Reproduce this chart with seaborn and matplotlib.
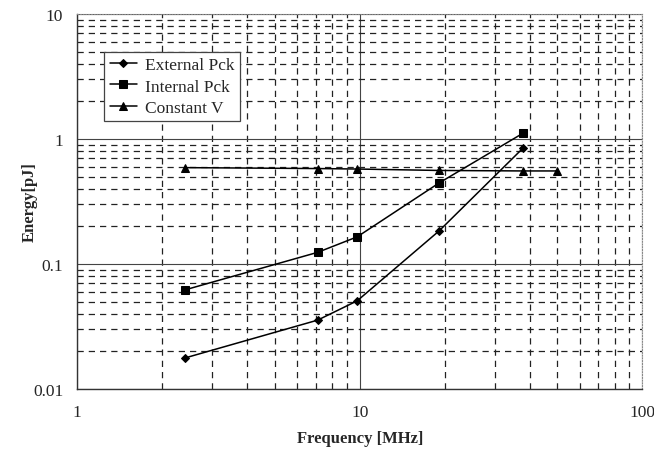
import seaborn as sns
import matplotlib.pyplot as plt
import pandas as pd
from matplotlib.ticker import LogLocator, FixedLocator, FixedFormatter, NullFormatter

# values
freq = [2.4, 7.1, 9.8, 19.1, 37.8]
freq_const = [2.4, 7.1, 9.8, 19.1, 37.8, 50]
external_pck = [0.0177, 0.0356, 0.0508, 0.184, 0.843]
internal_pck = [0.062, 0.124, 0.165, 0.445, 1.11]
constant_v = [0.59, 0.58, 0.575, 0.56, 0.555, 0.555]

x_ticks = [1, 10, 100]
x_labels = ["1", "10", "100"]
y_ticks = [0.01, 0.1, 1, 10]
y_labels = ["0.01", "0.1", "1", "10"]

sns.set_style("white")
plt.rcParams["font.family"] = ["Liberation Serif", "DejaVu Serif"]

fig = plt.figure(figsize=(6.54, 4.52), dpi=100)
ax = fig.add_axes([0.118, 0.137, 0.864, 0.830])

df_ext = pd.DataFrame({"f": freq, "e": external_pck})
df_int = pd.DataFrame({"f": freq, "e": internal_pck})
df_con = pd.DataFrame({"f": freq_const, "e": constant_v})

sns.lineplot(data=df_ext, x="f", y="e", ax=ax, color="black", lw=1.1,
             marker="D", markersize=4, markeredgecolor="black", label="External Pck")
sns.lineplot(data=df_int, x="f", y="e", ax=ax, color="black", lw=1.1,
             marker="s", markersize=5.5, markeredgecolor="black", label="Internal Pck")
sns.lineplot(data=df_con, x="f", y="e", ax=ax, color="black", lw=1.1,
             marker="^", markersize=5.5, markeredgecolor="black", label="Constant V")

ax.set_xscale("log")
ax.set_yscale("log")
ax.set_xlim(1, 100)
ax.set_ylim(0.01, 10)

ax.xaxis.set_major_locator(FixedLocator(x_ticks))
ax.xaxis.set_major_formatter(FixedFormatter(x_labels))
ax.yaxis.set_major_locator(FixedLocator(y_ticks))
ax.yaxis.set_major_formatter(FixedFormatter(y_labels))
ax.xaxis.set_minor_locator(LogLocator(base=10, subs=range(2, 10)))
ax.yaxis.set_minor_locator(LogLocator(base=10, subs=range(2, 10)))
ax.xaxis.set_minor_formatter(NullFormatter())
ax.yaxis.set_minor_formatter(NullFormatter())

ax.grid(which="major", color="#444444", lw=0.8, ls="-")
ax.grid(which="minor", color="#222222", lw=0.9, ls=(0, (5, 4)))
ax.set_axisbelow(True)

ax.tick_params(which="both", length=0, labelsize=12.5)
ax.tick_params(axis="x", which="major", pad=11)
ax.tick_params(axis="y", which="major", length=4, direction="out", color="#444444", pad=6)

for side in ["left", "bottom"]:
    ax.spines[side].set_color("#333333")
    ax.spines[side].set_linewidth(1.0)
for side in ["top", "right"]:
    ax.spines[side].set_color("#888888")
    ax.spines[side].set_linestyle((0, (1, 1.5)))
    ax.spines[side].set_linewidth(0.8)

ax.set_xlabel("Frequency [MHz]", fontsize=12, fontweight="bold", labelpad=7)
ax.set_ylabel("Energy[pJ]", fontsize=12, fontweight="bold")
ax.yaxis.set_label_coords(-0.069, 0.5)

leg = ax.legend(loc="upper left", bbox_to_anchor=(0.048, 0.899), borderaxespad=0,
                fontsize=12.5, frameon=True, fancybox=False, framealpha=1,
                edgecolor="#444444", handlelength=1.6, handletextpad=0.45,
                borderpad=0.3, labelspacing=0.3)
leg.get_frame().set_linewidth(0.9)

fig.savefig("out.png", dpi=100)
